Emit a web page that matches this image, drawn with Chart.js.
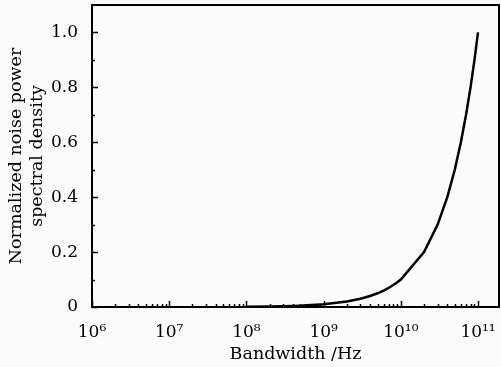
<!DOCTYPE html>
<html><head><meta charset="utf-8">
<script src="https://cdn.jsdelivr.net/npm/chart.js@4/dist/chart.umd.min.js"></script>
<style>html,body{margin:0;padding:0;background:#fbfbfb}#wrap{width:501px;height:367px}</style>
</head><body><div id="wrap"><canvas id="c" width="501" height="367"></canvas></div>
<script>
const bandwidthHz = [1e8,2e8,3e8,4e8,5e8,6e8,7e8,8e8,9e8,
  1e9,2e9,3e9,4e9,5e9,6e9,7e9,8e9,9e9,
  1e10,2e10,3e10,4e10,5e10,6e10,7e10,8e10,9e10,1e11];
const normalizedPSD = [0.001,0.002,0.003,0.004,0.005,0.006,0.007,0.008,0.009,
  0.01,0.02,0.03,0.04,0.05,0.06,0.07,0.08,0.09,
  0.1,0.2,0.3,0.4,0.5,0.6,0.7,0.8,0.9,1.0];
const xTickValues = [1e6,1e7,1e8,1e9,1e10,1e11];
const xTickLabels = ['10\u2076','10\u2077','10\u2078','10\u2079','10\u00b9\u2070','10\u00b9\u00b9'];
const yTickValues = [0,0.2,0.4,0.6,0.8,1.0];
const yTickLabels = ['0','0.2','0.4','0.6','0.8','1.0'];
const yMinorValues = [0.1,0.3,0.5,0.7,0.9];
const xTitle = 'Bandwidth /Hz';
const yTitleLines = ['Normalized noise power','spectral density'];

const TICKFONT = {family:'"DejaVu Serif", serif', size:17};
const TITLEFONT = {family:'"DejaVu Serif", serif', size:17.5, lineHeight:1.2};

function noPad(s){ s.paddingLeft=0; s.paddingRight=0; s.paddingTop=0; s.paddingBottom=0; }

const frame = {
  id:'frame',
  afterDraw(chart){
    const {ctx, chartArea:a, scales:{x,y}} = chart;
    ctx.save();
    ctx.strokeStyle='#000';
    ctx.lineWidth=1.5;
    ctx.beginPath();
    for (const v of xTickValues){
      const px = Math.round(x.getPixelForValue(v))+0.5;
      ctx.moveTo(px,a.bottom); ctx.lineTo(px,a.bottom-6);
      for (let m=2;m<=9;m++){
        const mv = v*m;
        if (mv > x.max) break;
        const mp = Math.round(x.getPixelForValue(mv))+0.5;
        ctx.moveTo(mp,a.bottom); ctx.lineTo(mp,a.bottom-3);
      }
    }
    for (const v of yTickValues){
      const py = Math.round(y.getPixelForValue(v))+0.5;
      ctx.moveTo(a.left,py); ctx.lineTo(a.left+6,py);
    }
    for (const v of yMinorValues){
      const py = Math.round(y.getPixelForValue(v))+0.5;
      ctx.moveTo(a.left,py); ctx.lineTo(a.left+3,py);
    }
    ctx.stroke();
    ctx.lineWidth=2;
    ctx.strokeRect(a.left, a.top, a.right-a.left, a.bottom-a.top);
    ctx.restore();
  }
};

new Chart(document.getElementById('c'), {
  type:'line',
  data:{datasets:[{
    data: bandwidthHz.map((b,i)=>({x:b,y:normalizedPSD[i]})),
    borderColor:'#000', borderWidth:2.5, pointRadius:0, tension:0, fill:false
  }]},
  options:{
    responsive:false, animation:false, devicePixelRatio:1,
    layout:{padding:{top:5,right:2,left:0,bottom:0}},
    plugins:{legend:{display:false},tooltip:{enabled:false}},
    scales:{
      x:{type:'logarithmic', min:1e6, max:1.87e11,
        grid:{display:false}, border:{display:false},
        afterBuildTicks(s){ s.ticks = xTickValues.map(v=>({value:v})); },
        afterFit(s){ s.height = 60; noPad(s); },
        ticks:{color:'#000', font:TICKFONT, padding:7, maxRotation:0, autoSkip:false,
          callback:(v)=>{const i=xTickValues.indexOf(v); return i>=0?xTickLabels[i]:'';}},
        title:{display:true, text:xTitle, color:'#000', font:TITLEFONT, padding:{top:0,bottom:2}}
      },
      y:{min:0, max:1.1,
        grid:{display:false}, border:{display:false},
        afterBuildTicks(s){ s.ticks = yTickValues.map(v=>({value:v})); },
        afterFit(s){ s.width = 92; noPad(s); },
        ticks:{color:'#000', font:TICKFONT, padding:6,
          callback:(v)=>{const i=yTickValues.indexOf(v); return i>=0?yTickLabels[i]:'';}},
        title:{display:true, text:yTitleLines, color:'#000', font:TITLEFONT, padding:{top:6,bottom:0}}
      }
    }
  },
  plugins:[frame]
});
</script>
</body></html>
